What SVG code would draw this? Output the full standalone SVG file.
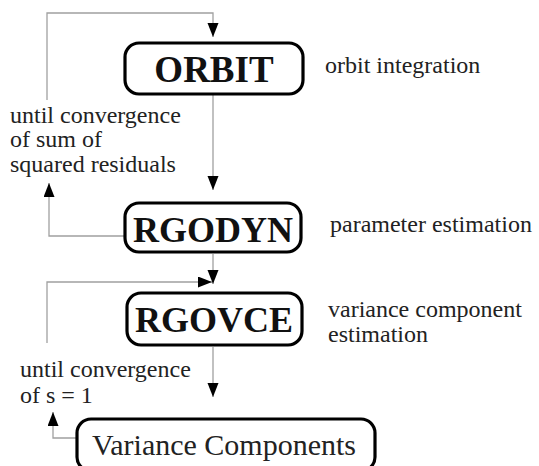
<svg xmlns="http://www.w3.org/2000/svg" width="539" height="466" viewBox="0 0 539 466">
<defs>
<marker id="ah" markerUnits="userSpaceOnUse" markerWidth="15" markerHeight="12" refX="14" refY="5.5" orient="auto">
<path d="M0,0 L14,5.5 L0,11 Z" fill="#000"/>
</marker>
</defs>
<g id="connectors" fill="none" stroke="#a0a0a0" stroke-width="1.3">
<polyline points="47,100 47,13 213,13 213,37" marker-end="url(#ah)"/>
<line x1="213" y1="95" x2="213" y2="190" marker-end="url(#ah)"/>
<polyline points="125,236 49,236 49,183" marker-end="url(#ah)"/>
<line x1="213" y1="254" x2="213" y2="284" marker-end="url(#ah)"/>
<polyline points="47,343 47,282 212,282" marker-end="url(#ah)"/>
<line x1="213" y1="347" x2="213" y2="397" marker-end="url(#ah)"/>
<polyline points="77,438 53,438 53,412" marker-end="url(#ah)"/>
</g>
<g id="orbit">
<rect x="125" y="43" width="178" height="51" rx="14" fill="#fff" stroke="#000" stroke-width="3.2"/>
<text x="214" y="82" font-size="37" font-weight="bold" fill="#111" text-anchor="middle" font-family="Liberation Serif">ORBIT</text>
</g>
<g id="rgodyn">
<rect x="125" y="203" width="176" height="49" rx="14" fill="#fff" stroke="#000" stroke-width="3.2"/>
<text x="213" y="242" font-size="36" font-weight="bold" fill="#111" text-anchor="middle" font-family="Liberation Serif">RGODYN</text>
</g>
<g id="rgovce">
<rect x="127" y="293" width="175" height="52" rx="14" fill="#fff" stroke="#000" stroke-width="3.2"/>
<text x="214" y="332" font-size="36" font-weight="bold" fill="#111" text-anchor="middle" font-family="Liberation Serif">RGOVCE</text>
</g>
<g id="variance">
<rect x="77" y="419" width="298" height="52" rx="14" fill="#fff" stroke="#000" stroke-width="3.2"/>
<text x="224" y="455" font-size="30" fill="#222" text-anchor="middle" font-family="Liberation Serif">Variance Components</text>
</g>
<g id="labels" font-size="24" fill="#222">
<text x="325" y="73" font-family="Liberation Serif">orbit integration</text>
<text x="330" y="232" font-family="Liberation Serif">parameter estimation</text>
<text x="328" y="317" font-family="Liberation Serif">variance component</text>
<text x="328" y="342" font-family="Liberation Serif">estimation</text>
<text x="10" y="123" font-family="Liberation Serif">until convergence</text>
<text x="10" y="147" font-family="Liberation Serif">of sum of</text>
<text x="10" y="172" font-family="Liberation Serif">squared residuals</text>
<text x="20" y="377" font-family="Liberation Serif">until convergence</text>
<text x="20" y="403" font-family="Liberation Serif">of s = 1</text>
</g>
</svg>
